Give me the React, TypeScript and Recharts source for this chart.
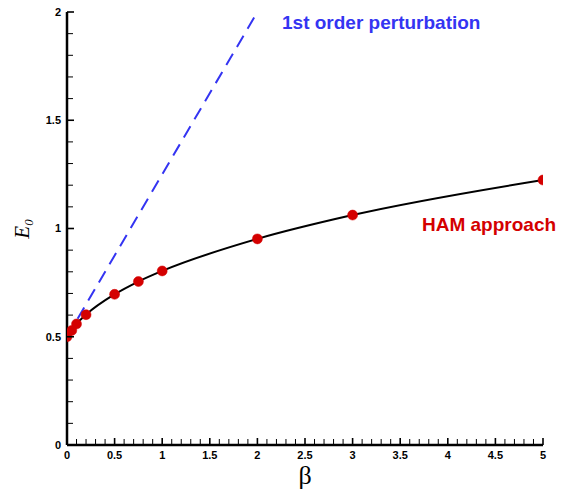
import React from "react";
import { LineChart, Line, XAxis, YAxis } from "recharts";

// HAM approach points (beta, E0)
const hamBeta = [0, 0.05, 0.1, 0.2, 0.5, 0.75, 1, 2, 3, 5];
const hamE0 = [0.5, 0.529, 0.559, 0.602, 0.696, 0.755, 0.804, 0.952, 1.062, 1.224];

// 1st order perturbation: straight dashed line
const pertBeta = [0, 2];
const pertE0 = [0.5, 2];

const xMajorTicks = [0, 0.5, 1, 1.5, 2, 2.5, 3, 3.5, 4, 4.5, 5];
const yMajorTicks = [0, 0.5, 1, 1.5, 2];

const hamData = hamBeta.map((b, i) => ({ beta: b, e0: hamE0[i] }));
const pertData = pertBeta.map((b, i) => ({ beta: b, e0: pertE0[i] }));

// minor ticks every 0.1
const minorTicks = (max: number) =>
  Array.from({ length: Math.round(max * 10) + 1 }, (_, i) => i / 10);
const xTicks = minorTicks(5);
const yTicks = minorTicks(2);

const isMajor = (v: number, majors: number[]) =>
  majors.some((m) => Math.abs(m - v) < 1e-6);

const BLUE = "#3434f2";
const RED = "#d40000";
const tickFont = {
  fontFamily: "'Liberation Sans', Arial, sans-serif",
  fontWeight: 700,
  fontSize: 11,
};

const YTick = (props: any) => {
  const { x, y, payload } = props;
  const v = payload.value as number;
  const major = isMajor(v, yMajorTicks);
  return (
    <g>
      <line
        x1={x}
        x2={x + (major ? 7 : 6)}
        y1={y}
        y2={y}
        stroke="#000"
        strokeWidth={major ? 1.6 : 1}
      />
      {major && (
        <text x={x - 6} y={y} dy="0.35em" textAnchor="end" fill="#000" {...tickFont}>
          {String(v)}
        </text>
      )}
    </g>
  );
};

const XTick = (props: any) => {
  const { x, y, payload } = props;
  const v = payload.value as number;
  const major = isMajor(v, xMajorTicks);
  return (
    <g>
      <line
        x1={x}
        x2={x}
        y1={y}
        y2={y - (major ? 7 : 6)}
        stroke="#000"
        strokeWidth={major ? 1.6 : 1}
      />
      {major && (
        <text x={x} y={y + 6} dy="0.75em" textAnchor="middle" fill="#000" {...tickFont}>
          {String(v)}
        </text>
      )}
    </g>
  );
};

export default function App() {
  return (
    <div style={{ position: "absolute", left: 0, top: 0, width: 562, height: 495, background: "#fff" }}>
      <LineChart
        width={562}
        height={495}
        margin={{ top: 12, right: 19, left: 0, bottom: 0 }}
      >
        <XAxis
          type="number"
          dataKey="beta"
          domain={[0, 5]}
          ticks={xTicks}
          interval={0}
          allowDataOverflow
          height={50}
          tickSize={0}
          tickMargin={0}
          tickLine={false}
          axisLine={{ stroke: "#000", strokeWidth: 2.5 }}
          tick={<XTick />}
        />
        <YAxis
          type="number"
          dataKey="e0"
          domain={[0, 2]}
          ticks={yTicks}
          interval={0}
          allowDataOverflow
          width={67}
          tickSize={0}
          tickMargin={0}
          tickLine={false}
          axisLine={{ stroke: "#000", strokeWidth: 2.5 }}
          tick={<YTick />}
        />
        <Line
          data={pertData}
          dataKey="e0"
          type="linear"
          stroke={BLUE}
          strokeWidth={2}
          strokeDasharray="13 8"
          dot={false}
          isAnimationActive={false}
        />
        <Line
          data={hamData}
          dataKey="e0"
          type="monotone"
          stroke="#000"
          strokeWidth={2}
          dot={{ r: 5, fill: RED, stroke: RED, strokeWidth: 0.5 }}
          isAnimationActive={false}
        />
      </LineChart>
      <svg
        width={562}
        height={495}
        style={{ position: "absolute", left: 0, top: 0, pointerEvents: "none" }}
      >
        <text
          x={282}
          y={29}
          fill={BLUE}
          fontFamily="'Liberation Sans', Arial, sans-serif"
          fontWeight={700}
          fontSize={19}
        >
          1st order perturbation
        </text>
        <text
          x={422}
          y={231}
          fill={RED}
          fontFamily="'Liberation Sans', Arial, sans-serif"
          fontWeight={700}
          fontSize={19}
        >
          HAM approach
        </text>
        <text
          x={305}
          y={484}
          textAnchor="middle"
          fill="#000"
          fontFamily="'Liberation Serif', 'Times New Roman', serif"
          fontSize={26}
        >
          β
        </text>
        <text
          transform="translate(29,229) rotate(-90)"
          textAnchor="middle"
          fill="#000"
          fontFamily="'Liberation Serif', 'Times New Roman', serif"
          fontStyle="italic"
          fontSize={21}
        >
          E
          <tspan fontSize={13} dy={4}>
            0
          </tspan>
        </text>
      </svg>
    </div>
  );
}
